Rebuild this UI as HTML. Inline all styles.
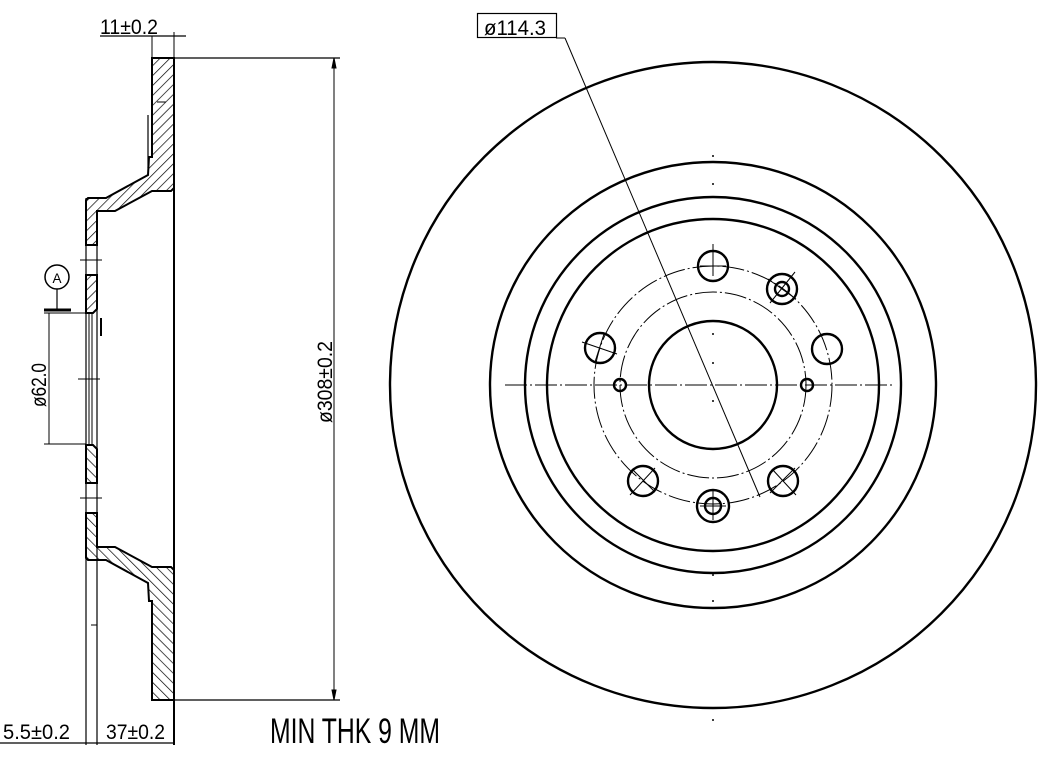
<!DOCTYPE html>
<html><head><meta charset="utf-8"><style>
html,body{margin:0;padding:0;background:#fff;}
svg{display:block;}
text{font-family:"Liberation Sans",sans-serif;fill:#000;}
</style></head><body>
<svg width="1047" height="772" viewBox="0 0 1047 772" xmlns="http://www.w3.org/2000/svg">
<defs>
<pattern id="h" patternUnits="userSpaceOnUse" width="7" height="7" patternTransform="rotate(45)">
<rect width="7" height="7" fill="#fff"/><line x1="0" y1="0" x2="0" y2="7" stroke="#000" stroke-width="1.4"/>
</pattern>
</defs>
<g stroke="#000" fill="none">
<g id="half" stroke-width="2">
<path d="M152,58 L174,58 L174,188 L171,191 L152,191 L115,211 L97,211 L97,245 L86,245 L86,200 L88,198 L106,198 L148,175 L149,157 L152,157 Z" fill="url(#h)"/>
<path d="M86,275 L97,275 L97,309 L93,313 L86,313 Z" fill="url(#h)"/>
</g>
<use href="#half" transform="translate(0,758) scale(1,-1)"/>
<line x1="174" y1="58" x2="174" y2="745" stroke-width="2"/>
<line x1="86" y1="198" x2="86" y2="745" stroke-width="1.2"/>
<line x1="97" y1="211" x2="97" y2="745" stroke-width="1.2"/>
<line x1="89" y1="313" x2="89" y2="444" stroke-width="1"/>
<line x1="92" y1="313" x2="92" y2="444" stroke-width="1"/>
<line x1="101" y1="318" x2="101" y2="336" stroke-width="2"/>
<line x1="148" y1="115" x2="148" y2="168" stroke-width="1.2"/>
<line x1="157" y1="102" x2="166" y2="102" stroke-width="1"/>
<line x1="80" y1="260" x2="102" y2="260" stroke-width="1"/>
<line x1="78" y1="379" x2="100" y2="379" stroke-width="1"/>
<line x1="80" y1="498" x2="102" y2="498" stroke-width="1"/>
<line x1="91" y1="625" x2="97" y2="625" stroke-width="1"/>
<line x1="174" y1="58" x2="340" y2="58" stroke-width="1.2"/>
<line x1="174" y1="700" x2="340" y2="700" stroke-width="1.2"/>
<line x1="334" y1="58" x2="334" y2="700" stroke-width="1"/>
<path d="M334,58 l-2,10 h4 Z M334,700 l-2,-10 h4 Z" fill="#000"/>
<line x1="44" y1="313" x2="86" y2="313" stroke-width="1"/>
<line x1="44" y1="444" x2="86" y2="444" stroke-width="1"/>
<line x1="49" y1="313" x2="49" y2="444" stroke-width="1"/>
<circle cx="57" cy="277" r="12" stroke-width="1.5"/>
<line x1="57" y1="289" x2="57" y2="310" stroke-width="1.2"/>
<line x1="44" y1="310" x2="71" y2="310" stroke-width="3"/>
<line x1="100" y1="36" x2="186" y2="36" stroke-width="1.2"/>
<line x1="152" y1="36" x2="152" y2="58" stroke-width="1"/>
<line x1="174" y1="32" x2="174" y2="58" stroke-width="1"/>
<line x1="0" y1="743" x2="174" y2="743" stroke-width="1.2"/>
<g stroke-width="2.4">
<circle cx="713" cy="385" r="323"/>
<circle cx="713" cy="385" r="223"/>
<circle cx="713" cy="385" r="188"/>
<circle cx="713" cy="385" r="166"/>
<circle cx="713" cy="385" r="64"/>
</g>
<g stroke-width="1" stroke-dasharray="22,3,2,3">
<circle cx="713" cy="385" r="119"/>
<circle cx="713" cy="385" r="93"/>
<line x1="505" y1="385" x2="893" y2="385"/>
</g>
<g stroke-width="2.4">
<circle cx="713" cy="266" r="15"/>
<circle cx="782" cy="289" r="15"/><circle cx="782" cy="289" r="7"/>
<circle cx="827" cy="349" r="15"/>
<circle cx="600" cy="348" r="15"/>
<circle cx="643" cy="481" r="15"/>
<circle cx="783" cy="481" r="15"/>
<circle cx="713" cy="506" r="16"/><circle cx="713" cy="506" r="8"/>
<circle cx="620" cy="385" r="6"/>
<circle cx="807" cy="385" r="6"/>
</g>
<g stroke-width="1">
<line x1="713" y1="244" x2="713" y2="276"/><line x1="700" y1="266" x2="726" y2="266"/>
<line x1="770" y1="303" x2="795" y2="272"/><line x1="768" y1="279" x2="796" y2="299"/>
<line x1="582" y1="342" x2="617" y2="354"/><line x1="595" y1="362" x2="604" y2="334"/>
<line x1="630" y1="495" x2="655" y2="468"/><line x1="632" y1="469" x2="655" y2="492"/>
<line x1="796" y1="495" x2="772" y2="469"/><line x1="770" y1="493" x2="795" y2="468"/>
<line x1="713" y1="490" x2="713" y2="520"/><line x1="700" y1="506" x2="726" y2="506"/>
<line x1="556" y1="38" x2="565" y2="38"/>
<line x1="565" y1="38" x2="760" y2="497"/>
<rect x="477.5" y="13.5" width="79" height="24" stroke-width="1.2"/>
</g>
<g stroke-width="1.5">
<line x1="713" y1="155" x2="713" y2="157"/><line x1="713" y1="183" x2="713" y2="185"/>
<line x1="713" y1="333" x2="713" y2="335"/><line x1="713" y1="362" x2="713" y2="364"/>
<line x1="713" y1="400" x2="713" y2="402"/><line x1="713" y1="574" x2="713" y2="576"/>
<line x1="713" y1="600" x2="713" y2="602"/><line x1="713" y1="719" x2="713" y2="721"/>
</g>
</g>
<text x="100" y="34" font-size="21" textLength="58" lengthAdjust="spacingAndGlyphs">11±0.2</text>
<text x="484" y="35" font-size="21" textLength="62" lengthAdjust="spacingAndGlyphs">ø114.3</text>
<text x="3" y="739" font-size="21" textLength="67" lengthAdjust="spacingAndGlyphs">5.5±0.2</text>
<text x="106" y="739" font-size="21" textLength="59" lengthAdjust="spacingAndGlyphs">37±0.2</text>
<text x="270" y="743" font-size="35" textLength="170" lengthAdjust="spacingAndGlyphs">MIN THK 9 MM</text>
<text transform="translate(332,423) rotate(-90)" font-size="21" textLength="82" lengthAdjust="spacingAndGlyphs">ø308±0.2</text>
<text transform="translate(46,407) rotate(-90)" font-size="21" textLength="44" lengthAdjust="spacingAndGlyphs">ø62.0</text>
<text x="52.5" y="283" font-size="14" textLength="9" lengthAdjust="spacingAndGlyphs">A</text>
</svg>
</body></html>
